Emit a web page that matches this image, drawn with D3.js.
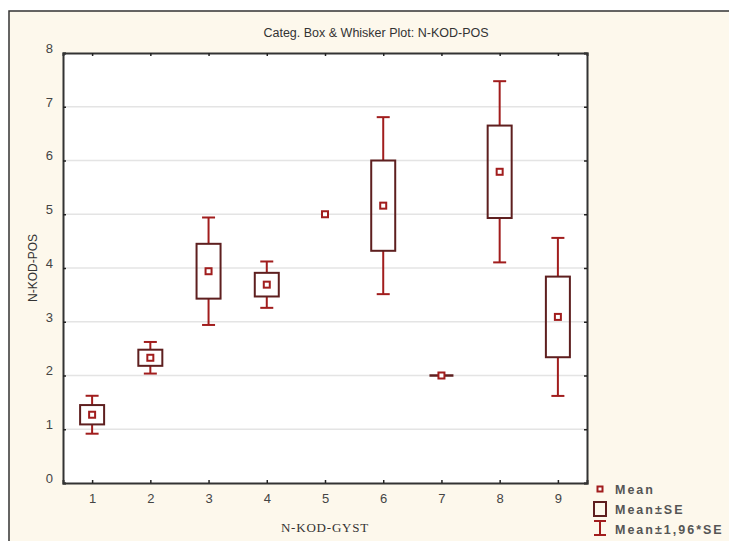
<!DOCTYPE html>
<html>
<head>
<meta charset="utf-8">
<script src="https://cdn.jsdelivr.net/npm/d3@7"></script>
<style>
  body { margin: 0; background: #fff; }
  svg text { font-family: "Liberation Sans", Arial, sans-serif; }
</style>
</head>
<body>
<div id="chart"></div>
<script>
// values
var categories = ["1", "2", "3", "4", "5", "6", "7", "8", "9"];
var means = [1.27, 2.33, 3.94, 3.69, 5.0, 5.16, 2.0, 5.79, 3.09];
var stdErrs = [0.18, 0.15, 0.51, 0.22, null, 0.84, 0, 0.86, 0.75];
var yTicks = [0, 1, 2, 3, 4, 5, 6, 7, 8];
var legendItems = ["Mean", "Mean\u00b1SE", "Mean\u00b11,96*SE"];

var width = 729, height = 541;
var margin = {left: 63, top: 53, right: 142, bottom: 58};
var boxColor = "#5e1f1f", whiskColor = "#a11d1d";

var svg = d3.select("#chart").append("svg")
    .attr("width", width)
    .attr("height", height);

// outer panel
svg.append("rect")
    .attr("x", 9).attr("y", 11)
    .attr("width", width).attr("height", height)
    .attr("fill", "#fdf8ec")
    .attr("stroke", "#333").attr("stroke-width", 1.5);

var pw = width - margin.left - margin.right,
    ph = height - margin.top - margin.bottom;

var x = d3.scalePoint().domain(categories).range([0, pw]).padding(0.5);
var y = d3.scaleLinear().domain([0, 8]).range([ph, 0]);

var g = svg.append("g").attr("transform", "translate(" + margin.left + "," + margin.top + ")");

g.append("rect")
    .attr("width", pw).attr("height", ph)
    .attr("fill", "#fff");

// grid
g.selectAll(".grid").data(yTicks.slice(1, -1)).enter().append("line")
    .attr("class", "grid")
    .attr("x1", 0).attr("x2", pw)
    .attr("y1", function(d) { return y(d); })
    .attr("y2", function(d) { return y(d); })
    .attr("stroke", "#e4e4e4").attr("stroke-width", 1.5);

// axes, ticks pointing inward
var axisLeft = d3.axisLeft(y).tickValues(yTicks).tickSize(-3).tickPadding(10);
var axisRight = d3.axisRight(y).tickValues(yTicks).tickSize(-3).tickFormat("");
var axisBottom = d3.axisBottom(x).tickSize(-3).tickPadding(11);
var axisTop = d3.axisTop(x).tickSize(-3).tickFormat("");

var gl = g.append("g").call(axisLeft);
var gr = g.append("g").attr("transform", "translate(" + pw + ",0)").call(axisRight);
var gb = g.append("g").attr("transform", "translate(0," + ph + ")").call(axisBottom);
var gt = g.append("g").call(axisTop);

[gl, gr, gb, gt].forEach(function(a) {
    a.select(".domain").attr("stroke", "#333").attr("stroke-width", 2);
    a.selectAll(".tick line").attr("stroke", "#222").attr("stroke-width", 1.5);
    a.selectAll(".tick text").attr("fill", "#444").style("font-size", "13px");
});
gl.selectAll(".tick text").attr("dy", "-0.05em");

// boxes and whiskers
var data = categories.map(function(c, i) { return {cat: c, mean: means[i], se: stdErrs[i]}; });
var boxW = 24, capW = 13;

var items = g.selectAll(".item").data(data).enter().append("g")
    .attr("class", "item")
    .attr("transform", function(d) { return "translate(" + x(d.cat) + ",0)"; });

items.filter(function(d) { return d.se !== null; }).each(function(d) {
    var it = d3.select(this);
    var lo = y(d.mean - 1.96 * d.se), hi = y(d.mean + 1.96 * d.se);
    var bLo = y(d.mean - d.se), bHi = y(d.mean + d.se);
    if (d.se > 0) {
        it.append("line").attr("x1", 0).attr("x2", 0).attr("y1", hi).attr("y2", bHi)
            .attr("stroke", whiskColor).attr("stroke-width", 2);
        it.append("line").attr("x1", 0).attr("x2", 0).attr("y1", bLo).attr("y2", lo)
            .attr("stroke", whiskColor).attr("stroke-width", 2);
        [hi, lo].forEach(function(v) {
            it.append("line").attr("x1", -capW / 2).attr("x2", capW / 2).attr("y1", v).attr("y2", v)
                .attr("stroke", whiskColor).attr("stroke-width", 2);
        });
        it.append("rect")
            .attr("x", -boxW / 2).attr("y", bHi)
            .attr("width", boxW).attr("height", bLo - bHi)
            .attr("fill", "none")
            .attr("stroke", boxColor).attr("stroke-width", 2);
    } else {
        // zero spread: box collapses to a flat line
        it.append("line").attr("x1", -boxW / 2).attr("x2", boxW / 2).attr("y1", bHi).attr("y2", bHi)
            .attr("stroke", boxColor).attr("stroke-width", 2.5);
    }
});

items.append("rect")
    .attr("x", -3).attr("y", function(d) { return y(d.mean) - 3; })
    .attr("width", 6).attr("height", 6)
    .attr("fill", "#fff")
    .attr("stroke", whiskColor).attr("stroke-width", 2);

// titles
svg.append("text")
    .attr("x", 376).attr("y", 37)
    .attr("text-anchor", "middle")
    .attr("fill", "#333")
    .style("font-size", "12.5px")
    .text("Categ. Box & Whisker Plot: N-KOD-POS");

svg.append("text")
    .attr("transform", "translate(37," + (margin.top + ph / 2) + ") rotate(-90)")
    .attr("text-anchor", "middle")
    .attr("fill", "#333")
    .style("font-size", "12px")
    .text("N-KOD-POS");

svg.append("text")
    .attr("x", margin.left + pw / 2).attr("y", 532)
    .attr("text-anchor", "middle")
    .attr("fill", "#333")
    .style("font-family", "'Liberation Serif', serif")
    .style("font-size", "13px")
    .style("letter-spacing", "0.8px")
    .text("N-KOD-GYST");

// legend
var lg = svg.append("g").attr("transform", "translate(600,489)");
var rows = lg.selectAll(".row").data(legendItems).enter().append("g")
    .attr("transform", function(d, i) { return "translate(0," + (i * 20) + ")"; });

rows.append("text")
    .attr("x", 15).attr("y", 5)
    .attr("fill", "#555")
    .style("font-size", "12.5px")
    .style("font-weight", "bold")
    .style("letter-spacing", "2px")
    .text(function(d) { return d; });

lg.append("rect").attr("x", -2.5).attr("y", -2.5).attr("width", 5).attr("height", 5)
    .attr("fill", "#fff").attr("stroke", whiskColor).attr("stroke-width", 2);
lg.append("rect").attr("x", -6).attr("y", 13).attr("width", 12).attr("height", 14)
    .attr("fill", "none").attr("stroke", boxColor).attr("stroke-width", 2);
lg.append("line").attr("x1", 0).attr("x2", 0).attr("y1", 32).attr("y2", 46)
    .attr("stroke", whiskColor).attr("stroke-width", 2);
[32, 46].forEach(function(v) {
    lg.append("line").attr("x1", -6).attr("x2", 6).attr("y1", v).attr("y2", v)
        .attr("stroke", whiskColor).attr("stroke-width", 2);
});
</script>
</body>
</html>
